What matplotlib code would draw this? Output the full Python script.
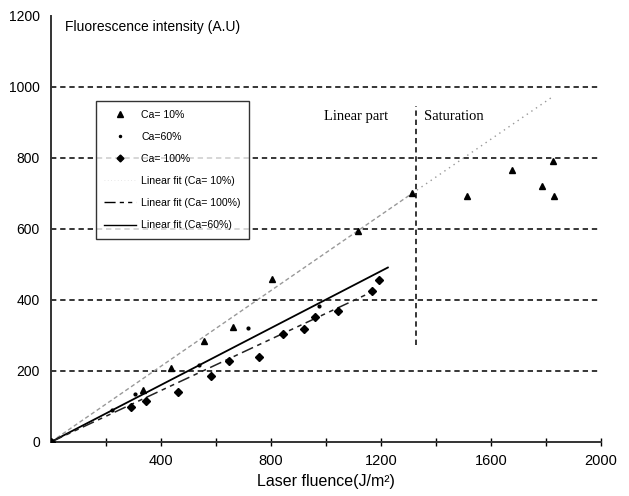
import matplotlib
matplotlib.use("Agg")
import matplotlib.pyplot as plt
from matplotlib.lines import Line2D

# ---- data ----
ca10_x = [336, 435, 556, 661, 805, 1117, 1314, 1514, 1675, 1784, 1824, 1829]
ca10_y = [145, 208, 283, 323, 459, 595, 701, 692, 766, 720, 790, 692]

ca60_x = [222, 306, 539, 715, 976]
ca60_y = [90, 135, 216, 320, 382]

ca100_x = [0, 291, 345, 463, 583, 647, 757, 842, 919, 960, 1045, 1169, 1194]
ca100_y = [0, 97, 114, 140, 185, 228, 238, 304, 317, 351, 368, 425, 457]

# linear fits: slopes (A.U per J/m2) and end points
fit10_slope, fit10_end, fit10_ext = 0.533, 1314, 1818
fit60_slope, fit60_end = 0.401, 1225
fit100_slope, fit100_end = 0.362, 1180

x_ticks = [200, 400, 600, 800, 1000, 1200, 1400, 1600, 1800, 2000]
x_labels = ["", "400", "", "800", "", "1200", "", "1600", "", "2000"]
y_ticks = [0, 200, 400, 600, 800, 1000, 1200]
grid_y = [200, 400, 600, 800, 1000]
sat_x = 1329
sat_y = (273, 945)

plt.rcParams['font.family'] = ['Liberation Sans', 'DejaVu Sans']

fig = plt.figure(figsize=(6.29, 4.96), dpi=100)
ax = fig.add_axes([0.081, 0.109, 0.8745, 0.859])
ax.set_xlim(0, 2000)
ax.set_ylim(0, 1200)

# gridlines
for gy in grid_y:
    ax.plot([0, 2000], [gy, gy], color='black', lw=1.1,
            linestyle=(0, (3.5, 2.5)), zorder=1, clip_on=False)

# saturation divider
ax.plot([sat_x, sat_x], list(sat_y), color='black', lw=1.1,
        linestyle=(0, (3.5, 2.5)), zorder=1)

# fits
ax.plot([0, fit10_end], [0, fit10_slope * fit10_end], color='#999999', lw=1.0,
        linestyle=(0, (3, 2)), zorder=2)
ax.plot([fit10_end, fit10_ext], [fit10_slope * fit10_end, fit10_slope * fit10_ext],
        color='#999999', lw=1.0, linestyle=(0, (1, 3)), zorder=2)
ax.plot([0, fit60_end], [0, fit60_slope * fit60_end], color='black', lw=1.3, zorder=2)
ax.plot([0, fit100_end], [0, fit100_slope * fit100_end], color='#222222', lw=1.1,
        linestyle=(0, (8, 3, 3, 3, 3, 3)), zorder=2)

# points
ax.plot(ca10_x, ca10_y, linestyle='none', marker='^', color='black', ms=5, zorder=3)
ax.plot(ca60_x, ca60_y, linestyle='none', marker='.', color='black', ms=4, zorder=3)
ax.plot(ca100_x, ca100_y, linestyle='none', marker='D', color='black', ms=4.2, zorder=3)

# texts
ax.text(1109, 916, "Linear part", family=['Liberation Serif'], fontsize=10.5,
        ha='center', va='center')
ax.text(1356, 916, "Saturation", family=['Liberation Serif'], fontsize=10.5,
        ha='left', va='center')

# axes styling
for s in ['top', 'right']:
    ax.spines[s].set_visible(False)
ax.spines['left'].set_linewidth(1.4)
ax.spines['bottom'].set_linewidth(1.4)
ax.spines['left'].set_color('#333333')
ax.spines['bottom'].set_color('#333333')

ax.set_xticks(x_ticks)
ax.set_xticklabels(x_labels, fontsize=10.5)
ax.tick_params(axis='x', direction='inout', length=6, width=1.0, pad=6)
ax.set_yticks(y_ticks)
ax.set_yticklabels([str(v) for v in y_ticks], fontsize=10)
ax.tick_params(axis='y', length=0, pad=8)

ax.set_xlabel("Laser fluence(J/m²)", fontsize=11.5, labelpad=4)
fig.text(65 / 629, 1 - 27 / 496, "Fluorescence intensity (A.U)", fontsize=10,
         ha='left', va='center')

# legend
handles = [
    Line2D([], [], linestyle='none', marker='^', color='black', ms=4),
    Line2D([], [], linestyle='none', marker='.', color='black', ms=3),
    Line2D([], [], linestyle='none', marker='D', color='black', ms=3.5),
    Line2D([], [], color='#e0e0e0', lw=0.6, linestyle=(0, (1, 3))),
    Line2D([], [], color='black', lw=1.0, linestyle=(0, (8, 3, 3, 3, 3, 3))),
    Line2D([], [], color='black', lw=1.0),
]
labels = ["Ca= 10%", "Ca=60%", "Ca= 100%", "Linear fit (Ca= 10%)",
          "Linear fit (Ca= 100%)", "Linear fit (Ca=60%)"]
leg = ax.legend(handles, labels, loc='upper left', bbox_to_anchor=(0.082, 0.80),
                fontsize=7.6, frameon=True, fancybox=False, edgecolor='black',
                labelspacing=1.15, handlelength=3.0, handletextpad=0.5,
                borderpad=0.8, borderaxespad=0)
leg.get_frame().set_linewidth(1.0)

fig.savefig("out.png", dpi=100)
